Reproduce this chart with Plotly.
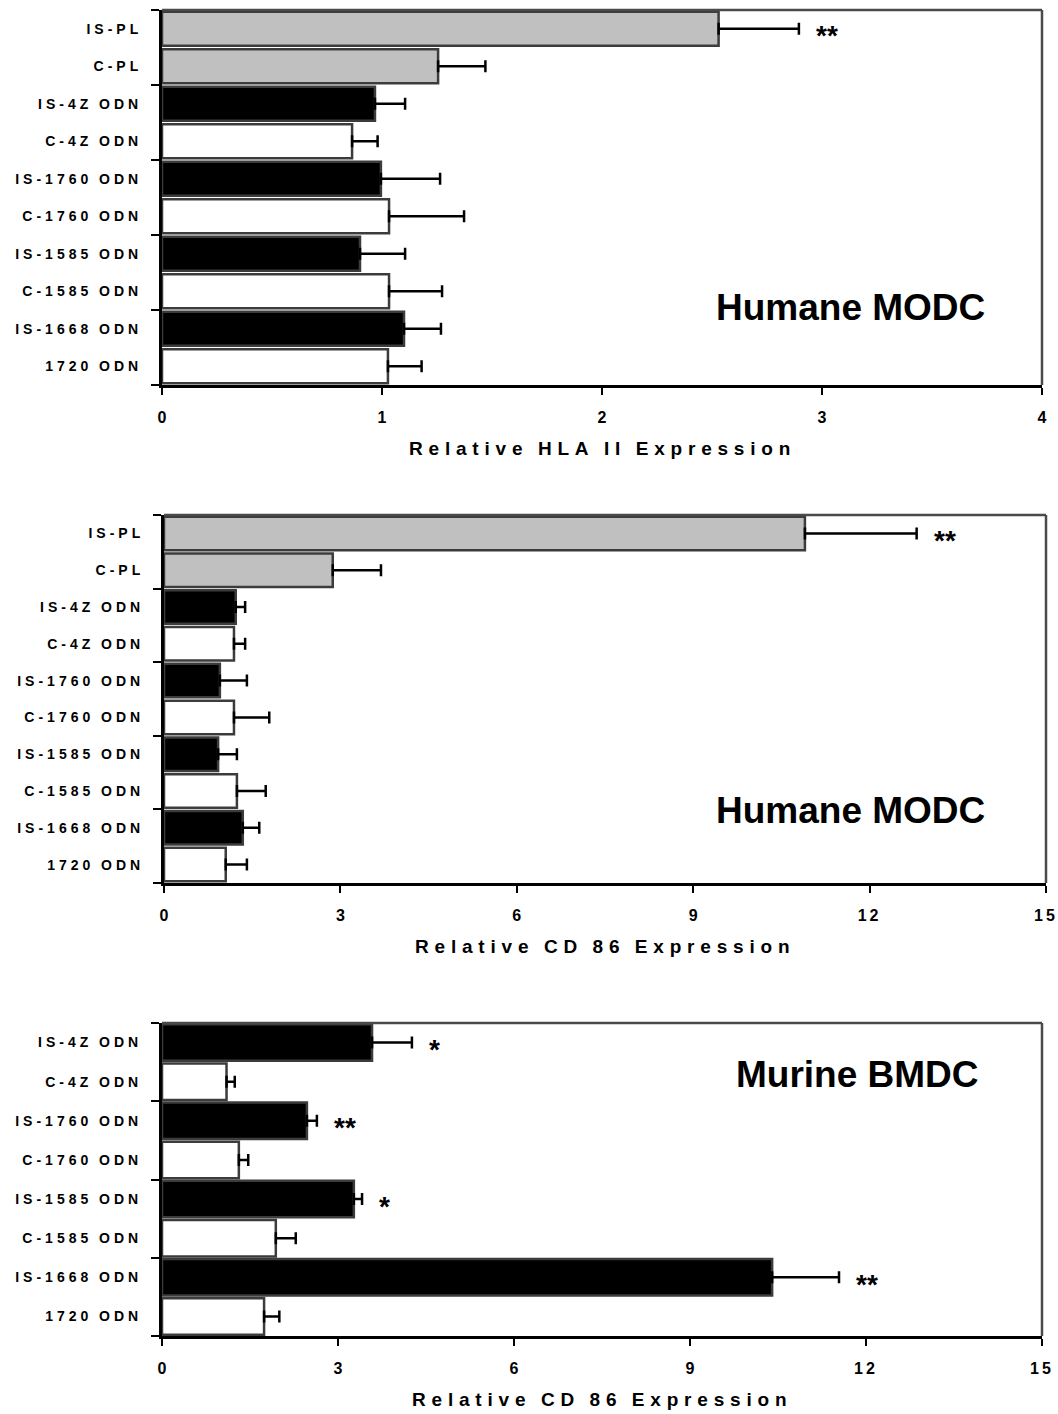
import plotly.graph_objects as go

# ---------------- data ----------------
labels_a = ["IS-PL", "C-PL", "IS-4Z ODN", "C-4Z ODN", "IS-1760 ODN", "C-1760 ODN",
            "IS-1585 ODN", "C-1585 ODN", "IS-1668 ODN", "1720 ODN"]
colors_a = ["#c0c0c0", "#c0c0c0", "#000000", "#ffffff", "#000000", "#ffffff",
            "#000000", "#ffffff", "#000000", "#ffffff"]

hla_mean = [2.53, 1.255, 0.968, 0.864, 0.995, 1.032, 0.90, 1.032, 1.10, 1.027]
hla_err = [0.365, 0.215, 0.137, 0.116, 0.269, 0.341, 0.205, 0.241, 0.168, 0.153]
hla_sig = ["**", "", "", "", "", "", "", "", "", ""]

cd86h_mean = [10.9, 2.87, 1.22, 1.19, 0.95, 1.19, 0.92, 1.24, 1.34, 1.05]
cd86h_err = [1.9, 0.82, 0.16, 0.19, 0.46, 0.60, 0.32, 0.49, 0.28, 0.36]
cd86h_sig = ["**", "", "", "", "", "", "", "", "", ""]

labels_b = ["IS-4Z ODN", "C-4Z ODN", "IS-1760 ODN", "C-1760 ODN",
            "IS-1585 ODN", "C-1585 ODN", "IS-1668 ODN", "1720 ODN"]
colors_b = ["#000000", "#ffffff", "#000000", "#ffffff",
            "#000000", "#ffffff", "#000000", "#ffffff"]
cd86m_mean = [3.58, 1.10, 2.47, 1.31, 3.27, 1.94, 10.4, 1.74]
cd86m_err = [0.68, 0.14, 0.17, 0.16, 0.14, 0.34, 1.14, 0.26]
cd86m_sig = ["*", "", "**", "", "*", "", "**", ""]

x_titles = ["Relative HLA II Expression", "Relative CD 86 Expression", "Relative CD 86 Expression"]
panel_names = ["Humane MODC", "Humane MODC", "Murine BMDC"]
x_ticks = [[0, 1, 2, 3, 4], [0, 3, 6, 9, 12, 15], [0, 3, 6, 9, 12, 15]]
x_ranges = [[0, 4], [0, 15], [0, 15]]

# ---------------- layout geometry ----------------
W, H = 1058, 1414
FONT = "Liberation Sans, Arial, sans-serif"


def spaced(s, px):
    s = s.replace(" ", "\u2009")
    return '<b><span style="letter-spacing:%.1fpx">%s</span></b>' % (px, s)


panels = [
    dict(labels=labels_a, colors=colors_a, mean=hla_mean, err=hla_err, sig=hla_sig,
         px=(162, 1042), py=(10, 385), bw=0.91, name_pos=(0.9375, 0.208)),
    dict(labels=labels_a, colors=colors_a, mean=cd86h_mean, err=cd86h_err, sig=cd86h_sig,
         px=(164, 1046), py=(515, 883), bw=0.91, name_pos=(0.933, 0.196)),
    dict(labels=labels_b, colors=colors_b, mean=cd86m_mean, err=cd86m_err, sig=cd86m_sig,
         px=(162, 1042), py=(1023, 1336), bw=0.93, name_pos=(0.931, 0.834)),
]

fig = go.Figure()
layout = dict(
    width=W, height=H, margin=dict(l=0, r=0, t=0, b=0),
    paper_bgcolor="white", plot_bgcolor="white", showlegend=False,
    font=dict(family=FONT, color="black"),
)
annotations = []
shapes = []

for i, p in enumerate(panels):
    k = "" if i == 0 else str(i + 1)
    xa, ya = "x" + k, "y" + k
    n = len(p["labels"])
    ypos = list(range(n))
    fig.add_trace(go.Bar(
        x=p["mean"], y=ypos, orientation="h", xaxis=xa, yaxis=ya,
        width=p["bw"],
        marker=dict(color=p["colors"], line=dict(color="#3c3c3c", width=2.5)),
        error_x=dict(type="data", array=p["err"], arrayminus=[0] * n, symmetric=False,
                     color="black", thickness=2.5, width=6),
        hoverinfo="skip",
    ))
    x0, x1 = p["px"]
    y0, y1 = p["py"]
    layout["xaxis" + k] = dict(
        domain=[x0 / W, x1 / W], anchor=ya, range=x_ranges[i],
        tickmode="array", tickvals=x_ticks[i],
        ticktext=[spaced(str(v), 3 if v >= 10 else 0) for v in x_ticks[i]],
        ticks="outside", ticklen=7, tickwidth=2, tickcolor="black",
        tickfont=dict(size=16, family=FONT, weight="bold", color="black"),
        ticklabelstandoff=9, ticklabeloverflow="allow",
        showline=True, linecolor="black", linewidth=3, showgrid=False, zeroline=False,
        automargin=False, fixedrange=True,
    )
    bounds = [b - 0.5 for b in range(0, n + 1, 2)]
    layout["yaxis" + k] = dict(
        domain=[1 - y1 / H, 1 - y0 / H], anchor=xa, range=[n - 0.5, -0.5],
        tickmode="array", tickvals=ypos,
        ticktext=[spaced(s, 4) for s in p["labels"]],
        ticks="", tickfont=dict(size=14, family=FONT, weight="bold", color="black"),
        ticklabelstandoff=14, ticklabeloverflow="allow",
        minor=dict(tickmode="array", tickvals=bounds, ticks="outside", ticklen=8,
                   tickwidth=2, tickcolor="black", showgrid=False),
        showline=True, linecolor="black", linewidth=3, showgrid=False, zeroline=False,
        automargin=False, fixedrange=True,
    )
    # frame top & right
    shapes.append(dict(type="line", xref=xa + " domain", yref=ya + " domain",
                       x0=0, x1=1, y0=1, y1=1, line=dict(color="#4a4a4a", width=2.5)))
    shapes.append(dict(type="line", xref=xa + " domain", yref=ya + " domain",
                       x0=1, x1=1, y0=0, y1=1, line=dict(color="#4a4a4a", width=2.5)))
    # axis title
    annotations.append(dict(
        text=spaced(x_titles[i], 5.8), xref=xa + " domain", yref=ya + " domain",
        x=0.5, y=0, xanchor="center", yanchor="middle", yshift=-63, showarrow=False,
        font=dict(size=19, family=FONT, weight="bold", color="black")))
    # panel name
    annotations.append(dict(
        text="<b>%s</b>" % panel_names[i], xref=xa + " domain", yref=ya + " domain",
        x=p["name_pos"][0], y=p["name_pos"][1], xanchor="right", yanchor="middle",
        showarrow=False, font=dict(size=37, family=FONT, weight="bold", color="black")))
    # significance stars
    for j in range(n):
        if p["sig"][j]:
            annotations.append(dict(
                text="<b>%s</b>" % p["sig"][j], xref=xa, yref=ya,
                x=p["mean"][j] + p["err"][j], y=j,
                xanchor="left", yanchor="middle", xshift=15, yshift=-7, showarrow=False,
                font=dict(size=28, family=FONT, weight="bold", color="black")))

layout["annotations"] = annotations
layout["shapes"] = shapes
fig.update_layout(**layout)
fig.write_html("out.html")
